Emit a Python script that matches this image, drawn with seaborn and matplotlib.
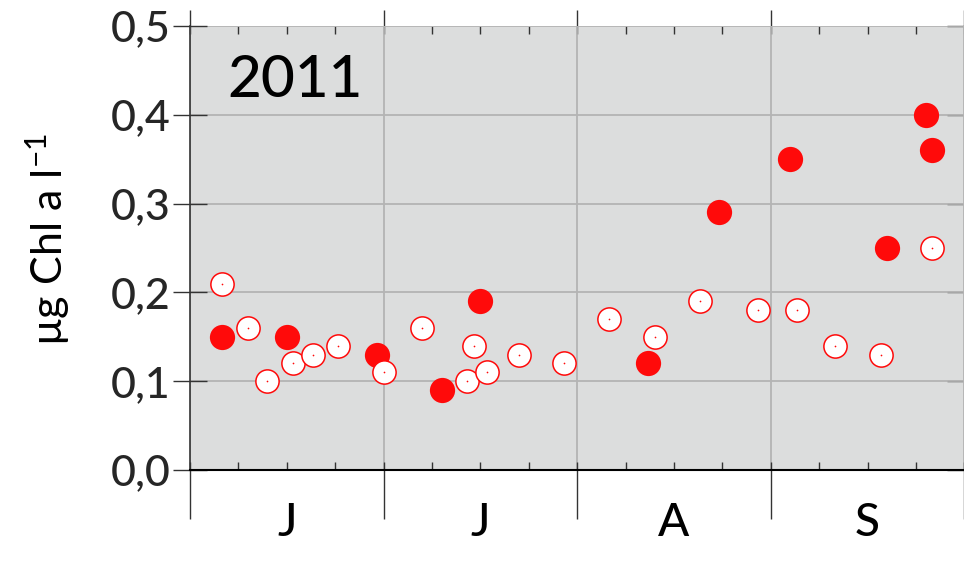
import matplotlib
matplotlib.use("Agg")
import matplotlib.pyplot as plt
import matplotlib.transforms as mtransforms
from matplotlib.ticker import FixedLocator, MultipleLocator
import pandas as pd
import seaborn as sns

# Sampling day (days after 1 June 2011, 30-day months on the axis) and chlorophyll a
open_day = [5, 9, 12, 16, 19, 23, 30, 36, 43, 44, 46, 51, 58, 65, 72, 79, 88, 94, 100, 107, 115]
open_chl = [0.21, 0.16, 0.10, 0.12, 0.13, 0.14, 0.11, 0.16, 0.10, 0.14, 0.11, 0.13,
            0.12, 0.17, 0.15, 0.19, 0.18, 0.18, 0.14, 0.13, 0.25]
filled_day = [5, 15, 29, 39, 45, 71, 82, 93, 108, 114, 115]
filled_chl = [0.15, 0.15, 0.13, 0.09, 0.19, 0.12, 0.29, 0.35, 0.25, 0.40, 0.36]

month_labels = ["J", "J", "A", "S"]
month_len = 30
y_ticks = [0.0, 0.1, 0.2, 0.3, 0.4, 0.5]
y_tick_labels = ["0,0", "0,1", "0,2", "0,3", "0,4", "0,5"]
year_label = "2011"

sns.set_style("white")
plt.rcParams["font.family"] = ["Lato", "DejaVu Sans"]
plt.rcParams["font.weight"] = "medium"
plt.rcParams["mathtext.fontset"] = "custom"
plt.rcParams["mathtext.rm"] = "Lato:medium"
plt.rcParams["mathtext.default"] = "regular"

RED = "#ff0a0a"
BG = "#dcdddd"
GRID = "#b4b4b4"
TICK = "#333333"

df_open = pd.DataFrame({"day": open_day, "chl": open_chl})
df_filled = pd.DataFrame({"day": filled_day, "chl": filled_chl})

fig = plt.figure(figsize=(9.64, 5.62), dpi=100)
ax = fig.add_axes([190 / 964, 1 - 470 / 562, 774.4 / 964, 444 / 562])
ax.set_facecolor(BG)

sns.scatterplot(data=df_filled, x="day", y="chl", ax=ax, s=330, color=RED,
                edgecolor=RED, linewidth=0, zorder=3, legend=False)
sns.scatterplot(data=df_open, x="day", y="chl", ax=ax, s=280, color="white",
                edgecolor=RED, linewidth=1.1, zorder=4, legend=False)
sns.scatterplot(data=df_open, x="day", y="chl", ax=ax, s=1.5, color=RED,
                linewidth=0, zorder=5, legend=False)

n_months = len(month_labels)
ax.set_xlim(0, n_months * month_len)
ax.set_ylim(y_ticks[0], y_ticks[-1])
ax.set_xlabel("")

# x ticks: month boundaries (out) plus quarter-month ticks inside
ax.xaxis.set_major_locator(FixedLocator([i * month_len for i in range(n_months + 1)]))
ax.xaxis.set_minor_locator(MultipleLocator(month_len / 4))
ax.xaxis.remove_overlapping_locs = False
ax.tick_params(axis="x", which="major", direction="out", length=35, width=1.0,
               color=TICK, bottom=True, top=False, labelbottom=False)
ax.tick_params(axis="x", which="minor", direction="in", length=6, width=1.0,
               color=TICK, bottom=True, top=False)

ax.set_yticks(y_ticks)
ax.set_yticklabels(y_tick_labels)
ax.tick_params(axis="y", which="major", direction="inout", length=24.5, width=1.0,
               color=TICK, left=True, right=False, labelsize=31, pad=1.5)

top = ax.secondary_xaxis("top")
top.xaxis.set_major_locator(FixedLocator([i * month_len for i in range(n_months + 1)]))
top.xaxis.set_minor_locator(MultipleLocator(month_len / 4))
top.xaxis.remove_overlapping_locs = False
top.tick_params(axis="x", which="major", direction="out", length=11.5, width=1.0,
                color=TICK, labeltop=False)
top.tick_params(axis="x", which="minor", direction="in", length=6, width=1.0,
                color=TICK)
for sp in top.spines.values():
    sp.set_visible(False)

right = ax.secondary_yaxis("right")
right.set_yticks(y_ticks)
right.tick_params(axis="y", which="major", direction="in", length=12.2, width=1.0,
                  color=TICK, labelright=False)
for sp in right.spines.values():
    sp.set_visible(False)

ax.grid(True, which="major", color=GRID, linewidth=1.3)
ax.set_axisbelow(True)

for side in ["top", "right"]:
    ax.spines[side].set_visible(False)
ax.spines["left"].set_color(TICK)
ax.spines["left"].set_linewidth(1.2)
ax.spines["bottom"].set_color("black")
ax.spines["bottom"].set_linewidth(1.5)

trans = mtransforms.blended_transform_factory(ax.transData, ax.transAxes)
for i, lab in enumerate(month_labels):
    ax.text((i + 0.5) * month_len, -0.149, lab, transform=trans, ha="center",
            va="baseline", fontsize=33, color="black")

ax.set_ylabel(r"µg Chl a l$^{-1}$", fontsize=31, color="black")
ax.yaxis.set_label_coords(-0.153, 0.518)

ax.text(0.136, 0.877, year_label, transform=ax.transAxes, ha="center",
        va="center", fontsize=42, color="black")

fig.savefig("out.png", dpi=100)
